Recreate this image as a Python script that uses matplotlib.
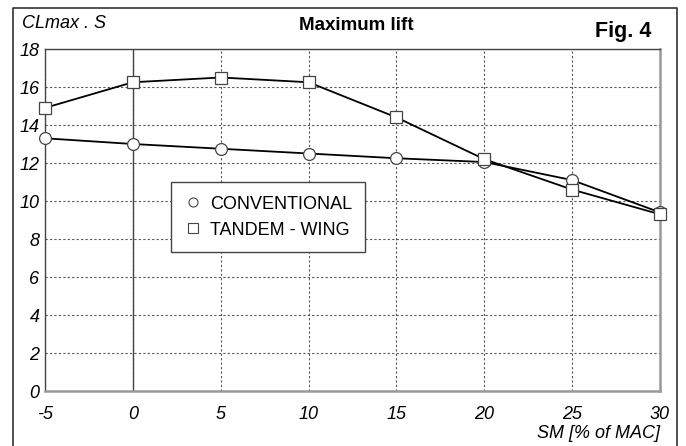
import matplotlib
matplotlib.use("Agg")
import matplotlib.pyplot as plt
from matplotlib.lines import Line2D

plt.rcParams['font.family'] = ['Liberation Sans', 'DejaVu Sans']

sm = [-5, 0, 5, 10, 15, 20, 25, 30]
conventional = [13.3, 13.0, 12.75, 12.5, 12.25, 12.05, 11.1, 9.4]
tandem = [14.9, 16.25, 16.5, 16.25, 14.4, 12.2, 10.6, 9.3]
x_ticks = [-5, 0, 5, 10, 15, 20, 25, 30]
y_ticks = [0, 2, 4, 6, 8, 10, 12, 14, 16, 18]

W, H = 686, 446
fig = plt.figure(figsize=(W / 100, H / 100), dpi=100)

# outer frame
fig.add_artist(Line2D([12.5 / W, 12.5 / W, 677 / W, 677 / W], [0, 1 - 8 / H, 1 - 8 / H, 0],
                      transform=fig.transFigure, color='#333333', lw=1.2))

L, R, T, B = 45, 660, 49, 391
ax = fig.add_axes([L / W, 1 - B / H, (R - L) / W, (B - T) / H])
ax.set_xlim(-5, 30)
ax.set_ylim(0, 18)

ax.set_xticks(x_ticks)
ax.set_yticks(y_ticks)
ax.set_xticklabels([str(v) for v in x_ticks])
ax.set_yticklabels([str(v) for v in y_ticks])
for lab in ax.get_xticklabels() + ax.get_yticklabels():
    lab.set_fontstyle('italic')
ax.tick_params(length=0, labelsize=13)
ax.tick_params(axis='x', pad=11)
ax.tick_params(axis='y', pad=4)

ax.grid(True, linestyle=(0, (2, 2)), color='#555555', lw=0.8)
ax.set_axisbelow(True)
ax.axvline(0, color='#444444', lw=1.0, zorder=1)

for s in ['top', 'left']:
    ax.spines[s].set_color('#444444')
    ax.spines[s].set_linewidth(1.0)
for s in ['bottom', 'right']:
    ax.spines[s].set_color('#999999')
    ax.spines[s].set_linewidth(1.8)

ax.plot(sm, conventional, color='black', lw=1.3, marker='o', ms=8.5,
        mfc='white', mec='#444444', mew=0.9, zorder=3, clip_on=False)
ax.plot(sm, tandem, color='black', lw=1.3, marker='s', ms=8.5,
        mfc='white', mec='#444444', mew=0.9, zorder=3, clip_on=False)

h1 = Line2D([], [], ls='none', marker='o', ms=6.5, mfc='white', mec='#444444', mew=0.8)
h2 = Line2D([], [], ls='none', marker='s', ms=6.5, mfc='white', mec='#444444', mew=0.8)
leg = ax.legend([h1, h2], ['CONVENTIONAL', 'TANDEM - WING'], loc='upper left',
                bbox_to_anchor=((171 - L) / (R - L), 1 - (182 - T) / (B - T)),
                fancybox=False, framealpha=1, edgecolor='#444444', fontsize=13,
                handletextpad=0.5, handlelength=0.9, borderpad=0.75, labelspacing=0.5,
                borderaxespad=0)
leg.get_frame().set_linewidth(1.0)

fig.text(22 / W, 1 - 23 / H, 'CLmax . S', fontsize=13, style='italic', va='center', ha='left')
fig.text(356 / W, 1 - 26 / H, 'Maximum lift', fontsize=13.5, weight='bold', va='center', ha='center')
fig.text(623 / W, 1 - 32 / H, 'Fig. 4', fontsize=15.5, weight='bold', va='center', ha='center')
fig.text(R / W, 1 - 434 / H, 'SM [% of MAC]', fontsize=13, style='italic', va='center', ha='right')

fig.savefig('out.png', dpi=100)
